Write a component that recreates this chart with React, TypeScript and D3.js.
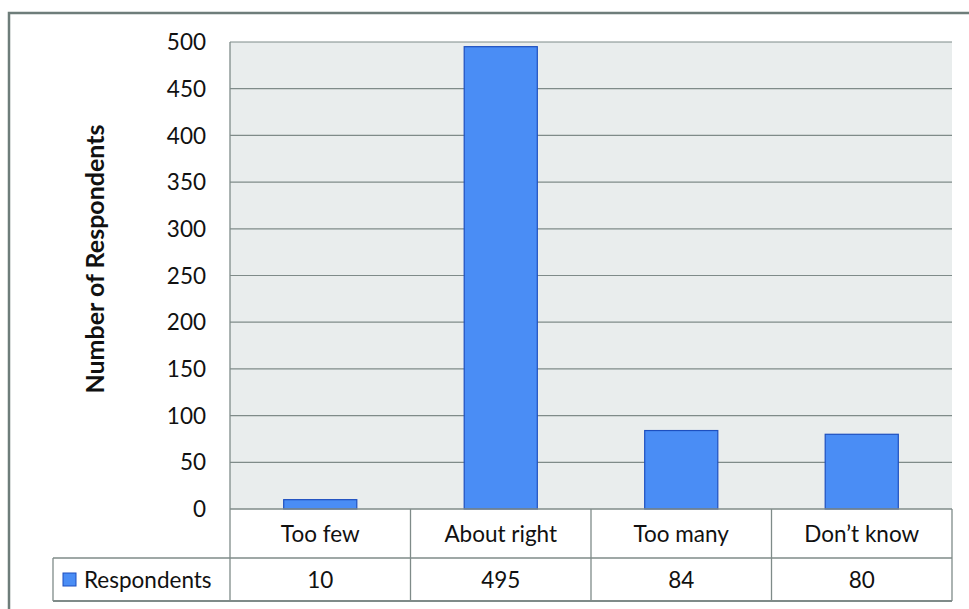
import React from "react";
import * as d3 from "d3";

const categories = ["Too few", "About right", "Too many", "Don\u2019t know"];
const respondents = [10, 495, 84, 80];
const yTicks = [0, 50, 100, 150, 200, 250, 300, 350, 400, 450, 500];
const seriesName = "Respondents";
const yTitle = "Number of Respondents";

const W = 969;
const H = 609;
const plot = { left: 230, right: 952, top: 42, bottom: 509 };
const rowCat = 558;
const rowVal = 601;
const legendLeft = 53;

const font = "Lato, 'Open Sans', sans-serif";
const gridColor = "#7f8b89";
const frameColor = "#6e7d7a";
const barFill = "#4a8df5";
const barStroke = "#1d4fbf";
const labelSize = 22.5;

export default function App() {
  const y = d3.scaleLinear().domain([0, 500]).range([plot.bottom, plot.top]);
  const x = d3
    .scaleBand<string>()
    .domain(categories)
    .range([plot.left, plot.right]);
  const barW = x.bandwidth() * 0.405;
  const edges = categories.map((c) => x(c)!).concat([plot.right]);

  return (
    <svg
      width={W}
      height={H}
      style={{ position: "absolute", left: 0, top: 0, display: "block" }}
    >
      <rect x={0} y={0} width={W} height={H} fill="#ffffff" />
      {/* chart frame, running past the right and bottom edges */}
      <rect
        x={9}
        y={13}
        width={W + 20}
        height={H + 20}
        fill="none"
        stroke={frameColor}
        strokeWidth={2.5}
      />
      {/* plot area */}
      <rect
        x={plot.left}
        y={plot.top}
        width={plot.right - plot.left}
        height={plot.bottom - plot.top}
        fill="#e9eded"
      />
      {yTicks.map((t) => (
        <g key={t}>
          {t > 0 && (
            <line
              x1={plot.left}
              x2={plot.right}
              y1={y(t)}
              y2={y(t)}
              stroke={gridColor}
              strokeWidth={1.2}
            />
          )}
          <text
            x={206}
            y={y(t)}
            dy="0.36em"
            textAnchor="end"
            fontFamily={font}
            fontSize={labelSize}
            fill="#111"
          >
            {t}
          </text>
        </g>
      ))}
      {/* bars */}
      {categories.map((c, i) => {
        const cx = x(c)! + x.bandwidth() / 2;
        return (
          <rect
            key={c}
            x={cx - barW / 2}
            y={y(respondents[i])}
            width={barW}
            height={plot.bottom - y(respondents[i])}
            fill={barFill}
            stroke={barStroke}
            strokeWidth={1.2}
          />
        );
      })}
      {/* data table */}
      <g stroke={gridColor} strokeWidth={1.3} fill="none">
        <line x1={plot.left} x2={plot.right} y1={plot.bottom} y2={plot.bottom} />
        <line x1={legendLeft} x2={plot.right} y1={rowCat} y2={rowCat} />
        <line x1={legendLeft} x2={plot.right} y1={rowVal} y2={rowVal} strokeWidth={2} />
        <line x1={plot.left} x2={plot.left} y1={plot.top} y2={rowVal} />
        <line x1={legendLeft} x2={legendLeft} y1={rowCat} y2={rowVal} />
        {edges.slice(1).map((e, i) => (
          <line key={i} x1={e} x2={e} y1={plot.bottom} y2={rowVal} />
        ))}
      </g>
      {categories.map((c, i) => {
        const cx = x(c)! + x.bandwidth() / 2;
        return (
          <g key={c}>
            <text
              x={cx}
              y={(plot.bottom + rowCat) / 2}
              dy="0.36em"
              textAnchor="middle"
              fontFamily={font}
              fontSize={labelSize}
              fill="#111"
            >
              {c}
            </text>
            <text
              x={cx}
              y={(rowCat + rowVal) / 2}
              dy="0.36em"
              textAnchor="middle"
              fontFamily={font}
              fontSize={labelSize}
              fill="#111"
            >
              {respondents[i]}
            </text>
          </g>
        );
      })}
      {/* legend key */}
      <rect
        x={63}
        y={573}
        width={13}
        height={13}
        fill={barFill}
        stroke={barStroke}
        strokeWidth={1}
      />
      <text
        x={84}
        y={(rowCat + rowVal) / 2}
        dy="0.36em"
        fontFamily={font}
        fontSize={labelSize}
        fill="#111"
      >
        {seriesName}
      </text>
      {/* axis title */}
      <text
        transform="translate(95, 259) rotate(-90)"
        dy="0.36em"
        textAnchor="middle"
        fontFamily={font}
        fontSize={25}
        fontWeight={700}
        fill="#111"
      >
        {yTitle}
      </text>
    </svg>
  );
}
